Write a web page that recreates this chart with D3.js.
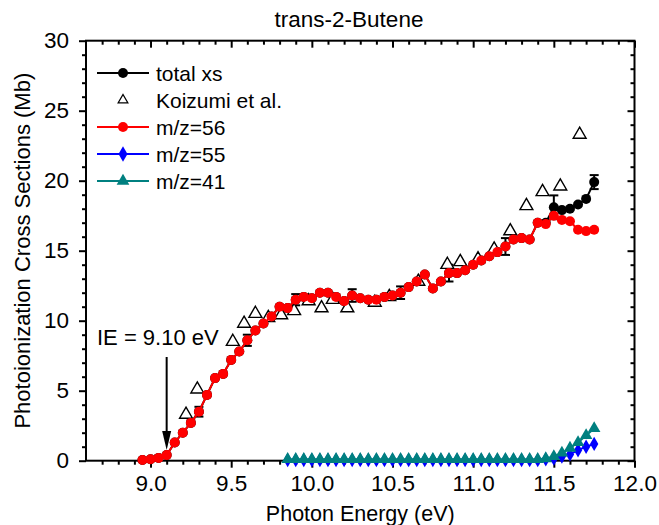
<!DOCTYPE html>
<html>
<head>
<meta charset="utf-8">
<script src="https://cdn.jsdelivr.net/npm/d3@7"></script>
<style>
    body { margin: 0; background: #fff; }
    svg text { font-family: "Liberation Sans", Arial, sans-serif; fill: #000; }
</style>
</head>
<body>
<div id="chart"></div>
<script>
// photon energies (eV) for the m/z=56 and total xs scans
const scanEnergy = [8.95, 9.00, 9.05, 9.10, 9.15, 9.20, 9.25, 9.30, 9.35, 9.40,
    9.45, 9.50, 9.55, 9.60, 9.65, 9.70, 9.75, 9.80, 9.85, 9.90,
    9.95, 10.00, 10.05, 10.10, 10.15, 10.20, 10.25, 10.30, 10.35, 10.40,
    10.45, 10.50, 10.55, 10.60, 10.65, 10.70, 10.75, 10.80, 10.85, 10.90,
    10.95, 11.00, 11.05, 11.10, 11.15, 11.20, 11.25, 11.30, 11.35, 11.40,
    11.45, 11.50, 11.55, 11.60, 11.65, 11.70, 11.75];

const mz56 = [0.05, 0.1, 0.2, 0.4, 1.3, 2.0, 2.7, 3.5, 4.7, 5.9,
    6.2, 7.2, 7.8, 8.6, 9.3, 9.8, 10.3, 11.0, 10.9, 11.5,
    11.7, 11.6, 12.0, 12.0, 11.7, 11.4, 11.8, 11.6, 11.5, 11.5,
    11.7, 11.8, 12.0, 12.4, 12.8, 13.3, 12.3, 12.8, 13.4, 13.4,
    13.6, 14.0, 14.3, 14.6, 14.9, 15.3, 15.8, 15.9, 15.8, 17.0,
    16.9, 17.5, 17.2, 17.1, 16.5, 16.4, 16.5];

const totalXs = [0.05, 0.1, 0.2, 0.4, 1.3, 2.0, 2.7, 3.5, 4.7, 5.9,
    6.2, 7.2, 7.8, 8.6, 9.3, 9.8, 10.3, 11.0, 10.9, 11.5,
    11.7, 11.6, 12.0, 12.0, 11.7, 11.4, 11.8, 11.6, 11.5, 11.5,
    11.7, 11.8, 12.0, 12.4, 12.8, 13.3, 12.3, 12.8, 13.4, 13.4,
    13.6, 14.0, 14.3, 14.6, 14.9, 15.3, 15.8, 15.9, 15.8, 17.0,
    17.0, 18.1, 17.9, 18.0, 18.3, 18.7, 19.9];

// error bars on the total cross section
const errEnergy = [9.30, 9.60, 9.90, 10.25, 10.55, 10.85, 11.20, 11.50, 11.75];
const errSize = [0.35, 0.4, 0.4, 0.45, 0.45, 0.6, 0.6, 0.85, 0.5];

// Koizumi et al.
const koizumiEnergy = [9.22, 9.29, 9.51, 9.58, 9.65, 9.73, 9.81, 9.89, 9.98, 10.06,
    10.13, 10.22, 10.39, 10.48, 10.66, 10.84, 10.92, 11.03, 11.13, 11.23,
    11.33, 11.43, 11.54, 11.66];
const koizumi = [3.3, 5.1, 8.5, 9.8, 10.5, 10.2, 10.4, 10.7, 11.4, 10.9,
    11.5, 10.9, 11.3, 11.7, 12.8, 14.0, 14.2, 14.4, 15.1, 16.4,
    18.2, 19.2, 19.6, 23.3];

// fragment scans
const fragEnergy = [9.85, 9.90, 9.95, 10.00, 10.05, 10.10, 10.15, 10.20, 10.25, 10.30,
    10.35, 10.40, 10.45, 10.50, 10.55, 10.60, 10.65, 10.70, 10.75, 10.80,
    10.85, 10.90, 10.95, 11.00, 11.05, 11.10, 11.15, 11.20, 11.25, 11.30,
    11.35, 11.40, 11.45, 11.50, 11.55, 11.60, 11.65, 11.70, 11.75];
const mz55 = [0.05, 0.05, 0.05, 0.05, 0.05, 0.05, 0.05, 0.05, 0.05, 0.05,
    0.05, 0.05, 0.05, 0.05, 0.05, 0.05, 0.05, 0.05, 0.05, 0.05,
    0.05, 0.05, 0.05, 0.05, 0.05, 0.05, 0.05, 0.05, 0.05, 0.05,
    0.05, 0.05, 0.1, 0.15, 0.3, 0.45, 0.75, 1.0, 1.2];
const mz41 = [0.1, 0.1, 0.1, 0.1, 0.1, 0.1, 0.1, 0.1, 0.1, 0.1,
    0.1, 0.1, 0.1, 0.1, 0.1, 0.1, 0.1, 0.1, 0.1, 0.1,
    0.1, 0.1, 0.1, 0.1, 0.1, 0.1, 0.1, 0.1, 0.1, 0.1,
    0.1, 0.1, 0.15, 0.3, 0.55, 0.9, 1.3, 1.8, 2.3];

const xMajor = [9.0, 9.5, 10.0, 10.5, 11.0, 11.5, 12.0];
const xMinor = [8.7, 8.8, 8.9, 9.1, 9.2, 9.3, 9.4, 9.6, 9.7, 9.8, 9.9, 10.1, 10.2, 10.3, 10.4,
    10.6, 10.7, 10.8, 10.9, 11.1, 11.2, 11.3, 11.4, 11.6, 11.7, 11.8, 11.9];
const yMajor = [0, 5, 10, 15, 20, 25, 30];
const yMinor = [1, 2, 3, 4, 6, 7, 8, 9, 11, 12, 13, 14, 16, 17, 18, 19, 21, 22, 23, 24, 26, 27, 28, 29];

const ieEnergy = 9.10;

const width = 659;
const height = 525;
const margin = { top: 40.7, right: 24.5, bottom: 64.3, left: 86 };

const svg = d3.select("#chart")
    .append("svg")
    .attr("width", width)
    .attr("height", height);

const x = d3.scaleLinear()
    .domain([8.6, 12.0])
    .range([margin.left, width - margin.right]);

const y = d3.scaleLinear()
    .domain([0, 30])
    .range([height - margin.bottom, margin.top]);

const x0 = x.range()[0], x1 = x.range()[1];
const y0 = y.range()[0], y1 = y.range()[1];

// axes: outward ticks bottom/left, inward mirror ticks top/right
const addAxis = (axis, transform, labels) => {
    const g = svg.append("g")
        .attr("transform", transform)
        .call(axis);
    g.select(".domain").remove();
    g.selectAll(".tick line").attr("stroke", "#000").attr("stroke-width", 2);
    if (!labels) g.selectAll(".tick text").remove();
    return g;
};

const xb = addAxis(d3.axisBottom(x).tickValues(xMajor).tickSize(7).tickPadding(7).tickFormat(d3.format(".1f")),
    `translate(0,${y0})`, true);
xb.selectAll(".tick text").style("font-size", "22.5px");
addAxis(d3.axisBottom(x).tickValues(xMinor).tickSize(4), `translate(0,${y0})`, false);
addAxis(d3.axisTop(x).tickValues(xMajor).tickSize(-7), `translate(0,${y1})`, false);
addAxis(d3.axisTop(x).tickValues(xMinor).tickSize(-4), `translate(0,${y1})`, false);

const yl = addAxis(d3.axisLeft(y).tickValues(yMajor).tickSize(7).tickPadding(10),
    `translate(${x0},0)`, true);
yl.selectAll(".tick text").style("font-size", "22.5px");
addAxis(d3.axisLeft(y).tickValues(yMinor).tickSize(4), `translate(${x0},0)`, false);
addAxis(d3.axisRight(y).tickValues(yMajor).tickSize(-7), `translate(${x1},0)`, false);
addAxis(d3.axisRight(y).tickValues(yMinor).tickSize(-4), `translate(${x1},0)`, false);

svg.append("rect")
    .attr("x", x0)
    .attr("y", y1)
    .attr("width", x1 - x0)
    .attr("height", y0 - y1)
    .attr("fill", "none")
    .attr("stroke", "#000")
    .attr("stroke-width", 2);

const plot = svg.append("g");

const line = d3.line()
    .x(d => x(d[0]))
    .y(d => y(d[1]));

const pairs = (xs, ys) => xs.map((e, i) => [e, ys[i]]);

const triangle = d3.symbol().type(d3.symbolTriangle);
const diamond = d3.symbol().type(d3.symbolDiamond);

// total xs (black) with error bars
const totalPts = pairs(scanEnergy, totalXs);
plot.append("path")
    .datum(totalPts)
    .attr("d", line)
    .attr("fill", "none")
    .attr("stroke", "#000")
    .attr("stroke-width", 2);

const errPts = errEnergy.map((e, i) => {
    const v = totalXs[scanEnergy.indexOf(e)];
    return { e: e, lo: v - errSize[i], hi: v + errSize[i] };
});
const eb = plot.append("g").attr("stroke", "#000").attr("stroke-width", 2);
errPts.forEach(d => {
    eb.append("line").attr("x1", x(d.e)).attr("x2", x(d.e)).attr("y1", y(d.lo)).attr("y2", y(d.hi));
    eb.append("line").attr("x1", x(d.e) - 4.5).attr("x2", x(d.e) + 4.5).attr("y1", y(d.lo)).attr("y2", y(d.lo));
    eb.append("line").attr("x1", x(d.e) - 4.5).attr("x2", x(d.e) + 4.5).attr("y1", y(d.hi)).attr("y2", y(d.hi));
});

plot.append("g")
    .selectAll("circle")
    .data(totalPts)
    .enter()
    .append("circle")
    .attr("cx", d => x(d[0]))
    .attr("cy", d => y(d[1]))
    .attr("r", 5)
    .attr("fill", "#000");

// Koizumi et al. open triangles
plot.append("g")
    .selectAll("path")
    .data(pairs(koizumiEnergy, koizumi))
    .enter()
    .append("path")
    .attr("d", triangle.size(72))
    .attr("transform", d => `translate(${x(d[0])},${y(d[1])})`)
    .attr("fill", "#fff")
    .attr("stroke", "#000")
    .attr("stroke-width", 1.4);

// m/z = 56
const m56Pts = pairs(scanEnergy, mz56);
plot.append("path")
    .datum(m56Pts)
    .attr("d", line)
    .attr("fill", "none")
    .attr("stroke", "#ff0000")
    .attr("stroke-width", 2);
plot.append("g")
    .selectAll("circle")
    .data(m56Pts)
    .enter()
    .append("circle")
    .attr("cx", d => x(d[0]))
    .attr("cy", d => y(d[1]))
    .attr("r", 5)
    .attr("fill", "#ff0000");

// m/z = 55
const m55Pts = pairs(fragEnergy, mz55);
plot.append("path")
    .datum(m55Pts)
    .attr("d", line)
    .attr("fill", "none")
    .attr("stroke", "#0000ff")
    .attr("stroke-width", 2);
plot.append("g")
    .selectAll("path")
    .data(m55Pts)
    .enter()
    .append("path")
    .attr("d", diamond.size(60))
    .attr("transform", d => `translate(${x(d[0])},${y(d[1])})`)
    .attr("fill", "#0000ff");

// m/z = 41
const m41Pts = pairs(fragEnergy, mz41);
plot.append("path")
    .datum(m41Pts)
    .attr("d", line)
    .attr("fill", "none")
    .attr("stroke", "#008080")
    .attr("stroke-width", 2);
plot.append("g")
    .selectAll("path")
    .data(m41Pts)
    .enter()
    .append("path")
    .attr("d", triangle.size(68))
    .attr("transform", d => `translate(${x(d[0])},${y(d[1])})`)
    .attr("fill", "#008080");

// IE arrow and label
const ax = x(ieEnergy);
svg.append("line")
    .attr("x1", ax).attr("x2", ax)
    .attr("y1", 357).attr("y2", 435)
    .attr("stroke", "#000")
    .attr("stroke-width", 2);
svg.append("path")
    .attr("d", `M${ax - 4.5},431 L${ax + 4.5},431 L${ax},450 Z`)
    .attr("fill", "#000");
svg.append("text")
    .attr("x", 97)
    .attr("y", 345)
    .style("font-size", "22px")
    .text("IE = 9.10 eV");

// legend
const legendItems = [
    { label: "total xs", color: "#000", shape: "circle", line: true },
    { label: "Koizumi et al.", color: "#000", shape: "open", line: false },
    { label: "m/z=56", color: "#ff0000", shape: "circle", line: true },
    { label: "m/z=55", color: "#0000ff", shape: "diamond", line: true },
    { label: "m/z=41", color: "#008080", shape: "triangle", line: true }
];

const legend = svg.append("g").attr("transform", "translate(97,73)");
legendItems.forEach((d, i) => {
    const row = legend.append("g").attr("transform", `translate(0,${i * 27})`);
    if (d.line) {
        row.append("line")
            .attr("x1", 0).attr("x2", 52)
            .attr("stroke", d.color)
            .attr("stroke-width", 2);
    }
    if (d.shape === "circle") {
        row.append("circle").attr("cx", 26).attr("r", 5).attr("fill", d.color);
    } else if (d.shape === "open") {
        row.append("path").attr("d", triangle.size(40)).attr("transform", "translate(26,0)")
            .attr("fill", "#fff").attr("stroke", "#000").attr("stroke-width", 1.3);
    } else if (d.shape === "diamond") {
        row.append("path").attr("d", diamond.size(70)).attr("transform", "translate(26,0)")
            .attr("fill", d.color);
    } else {
        row.append("path").attr("d", triangle.size(70)).attr("transform", "translate(26,0)")
            .attr("fill", d.color);
    }
    row.append("text")
        .attr("x", 59)
        .attr("y", 7.5)
        .style("font-size", "21px")
        .text(d.label);
});

// titles
svg.append("text")
    .attr("x", 349)
    .attr("y", 27)
    .attr("text-anchor", "middle")
    .style("font-size", "22.5px")
    .text("trans-2-Butene");

svg.append("text")
    .attr("x", (x0 + x1) / 2)
    .attr("y", 521)
    .attr("text-anchor", "middle")
    .style("font-size", "21.5px")
    .text("Photon Energy (eV)");

svg.append("text")
    .attr("transform", `translate(30,${(y0 + y1) / 2}) rotate(-90)`)
    .attr("text-anchor", "middle")
    .style("font-size", "22px")
    .text("Photoionization Cross Sections (Mb)");
</script>
</body>
</html>
